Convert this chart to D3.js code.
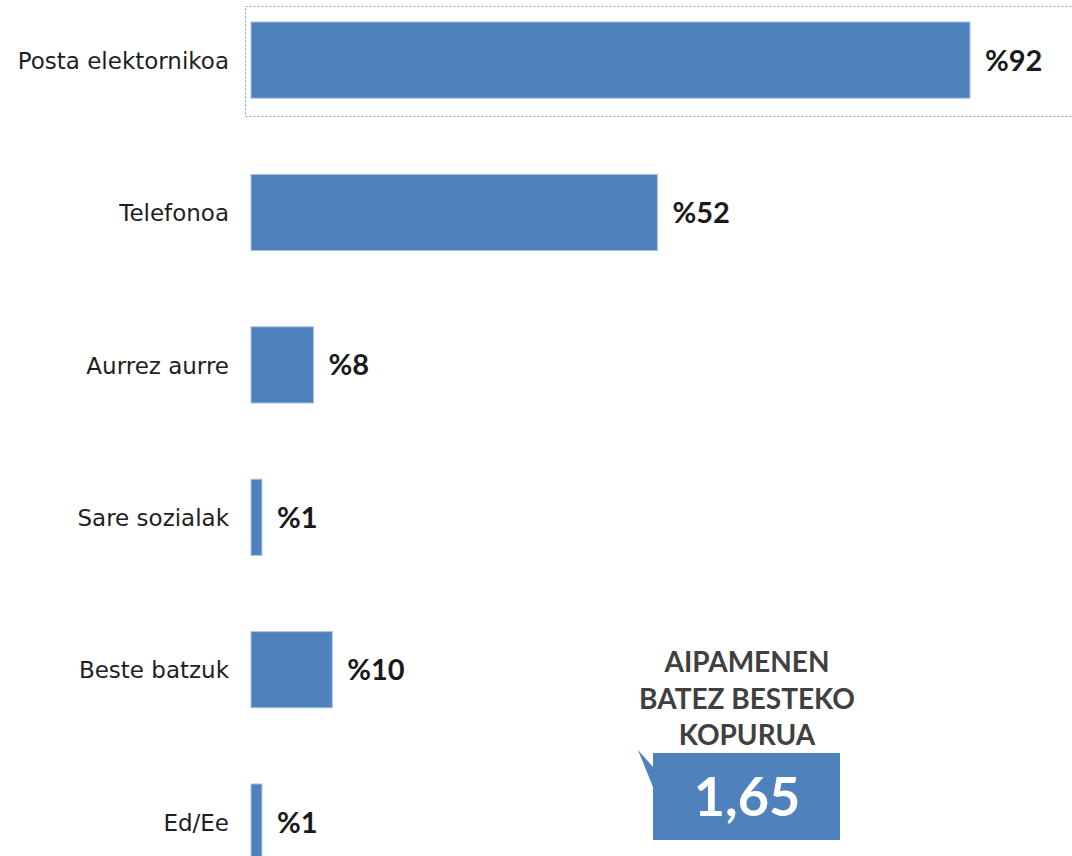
<html>
<head>
<script src="https://d3js.org/d3.v7.min.js"></script>
<style>
  body { margin: 0; background: #fff; }
</style>
</head>
<body>
<div id="chart"></div>
<script>
var width = 1072;
var height = 856;

// data
var categories = ["Posta elektornikoa", "Telefonoa", "Aurrez aurre", "Sare sozialak", "Beste batzuk", "Ed/Ee"];
var values = [92, 52, 8, 1.4, 10.4, 1.4];
var valueLabels = ["%92", "%52", "%8", "%1", "%10", "%1"];
var calloutTitle = ["AIPAMENEN", "BATEZ BESTEKO", "KOPURUA"];
var calloutValue = "1,65";

var data = categories.map(function (c, i) {
    return { cat: c, val: values[i], label: valueLabels[i] };
});

var svg = d3.select("#chart").append("svg")
    .attr("width", width)
    .attr("height", height);

var xScale = d3.scaleLinear().domain([0, 92]).range([251, 970]);
var yScale = d3.scaleBand()
    .domain(categories)
    .range([-54.2, 936.4])
    .padding(0.5);

// dotted selection frame around first bar
svg.append("rect")
    .attr("x", 245.5).attr("y", 6.5)
    .attr("width", 840).attr("height", 110)
    .attr("fill", "none")
    .attr("stroke", "#8ea4c4")
    .attr("stroke-width", 1.2)
    .attr("stroke-dasharray", "2,2");

svg.append("g")
    .selectAll("rect")
    .data(data)
    .enter()
    .append("rect")
    .attr("x", xScale(0))
    .attr("y", d => yScale(d.cat))
    .attr("width", d => xScale(d.val) - xScale(0))
    .attr("height", yScale.bandwidth())
    .attr("fill", "#4f81bd")
    .attr("stroke", "#a9c1de")
    .attr("stroke-width", 1);

// category labels
svg.append("g")
    .selectAll("text")
    .data(data)
    .enter()
    .append("text")
    .attr("x", 229)
    .attr("y", d => yScale(d.cat) + yScale.bandwidth() / 2)
    .attr("dy", "0.38em")
    .attr("text-anchor", "end")
    .attr("font-family", "'DejaVu Sans', sans-serif")
    .attr("font-size", 23)
    .attr("fill", "#1f1f1f")
    .text(d => d.cat);

// value labels
svg.append("g")
    .selectAll("text")
    .data(data)
    .enter()
    .append("text")
    .attr("x", d => xScale(d.val) + 15)
    .attr("y", d => yScale(d.cat) + yScale.bandwidth() / 2)
    .attr("dy", "0.36em")
    .attr("font-family", "Lato, sans-serif")
    .attr("font-size", 29)
    .attr("font-weight", "bold")
    .attr("fill", "#1a1a1a")
    .text(d => d.label);

// callout
var cx = 747;
svg.append("g")
    .selectAll("text")
    .data(calloutTitle)
    .enter()
    .append("text")
    .attr("x", cx)
    .attr("y", (d, i) => 672 + i * 36.5)
    .attr("text-anchor", "middle")
    .attr("font-family", "Lato, sans-serif")
    .attr("font-size", 28)
    .attr("font-weight", "bold")
    .attr("fill", "#404040")
    .text(d => d);

svg.append("path")
    .attr("d", "M653,753 L840,753 L840,840 L653,840 L653,787 L638,750 L653,767 Z")
    .attr("fill", "#4f81bd");

svg.append("text")
    .attr("x", cx)
    .attr("y", 816)
    .attr("text-anchor", "middle")
    .attr("font-family", "Lato, sans-serif")
    .attr("font-size", 54)
    .attr("font-weight", "bold")
    .attr("fill", "#ffffff")
    .text(calloutValue);
</script>
</body>
</html>
